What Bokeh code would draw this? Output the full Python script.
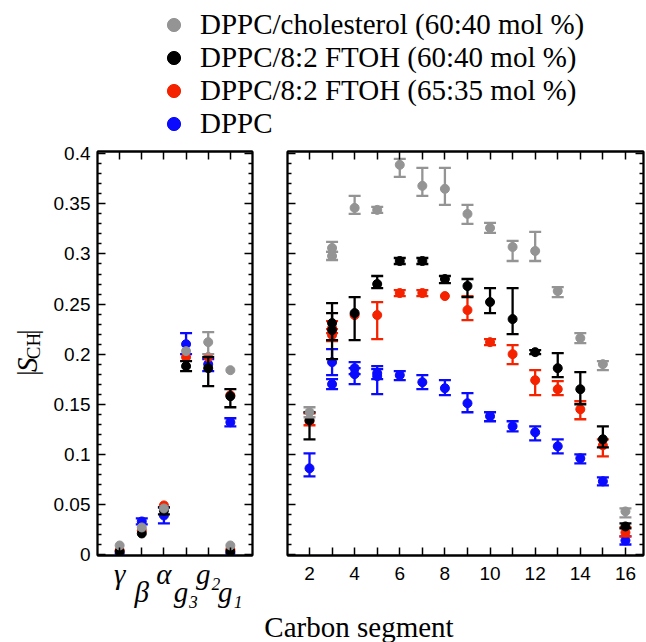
from bokeh.plotting import figure
from bokeh.models import Range1d, FixedTicker, LinearAxis, Legend, LegendItem
from bokeh.layouts import column, row
from bokeh.embed import file_html
from bokeh.resources import INLINE
from bokeh.core.properties import value
import math

# ---------------- data ----------------
series_names = ["DPPC/cholesterol (60:40 mol %)",
                "DPPC/8:2 FTOH (60:40 mol %)",
                "DPPC/8:2 FTOH (65:35 mol %)",
                "DPPC"]
series_colors = ["#949494", "#000000", "#f52200", "#0a0aff"]

head_groups = ["γ", "β", "α", "g₃", "g₂", "g₁"]

# headgroup / glycerol segments (left panel); None = no error bar
chol_head_grp = ["γ", "β", "α", "g₃", "g₂", "g₁", "g₁"]
chol_head_val = [0.009, 0.027, 0.046, 0.203, 0.212, 0.184, 0.009]
chol_head_lo = [None, None, None, None, 0.200, None, None]
chol_head_hi = [None, None, None, None, 0.222, None, None]

f40_head_grp = ["γ", "β", "α", "g₃", "g₂", "g₁", "g₁"]
f40_head_val = [0.003, 0.021, 0.044, 0.188, 0.186, 0.158, 0.003]
f40_head_lo = [None, None, 0.040, 0.183, 0.168, 0.147, None]
f40_head_hi = [None, None, 0.047, 0.193, 0.197, 0.165, None]

f35_head_grp = ["γ", "β", "α", "g₃", "g₂", "g₁", "g₁"]
f35_head_val = [0.004, 0.024, 0.049, 0.197, 0.197, 0.159, 0.005]
f35_head_lo = [None, None, None, None, None, None, None]
f35_head_hi = [None, None, None, None, None, None, None]

dppc_head_grp = ["γ", "β", "α", "g₃", "g₂", "g₁", "g₁"]
dppc_head_val = [0.001, 0.033, 0.039, 0.210, 0.190, 0.132, 0.001]
dppc_head_lo = [None, 0.030, 0.031, 0.200, 0.183, 0.128, None]
dppc_head_hi = [None, 0.036, 0.047, 0.221, 0.195, 0.136, None]

# acyl chain carbon segments (right panel)
chol_carbon = [2, 3, 3, 4, 5, 6, 7, 8, 9, 10, 11, 12, 13, 14, 15, 16]
chol_val = [0.142, 0.306, 0.298, 0.346, 0.344, 0.389, 0.368, 0.365, 0.340, 0.326, 0.307, 0.303, 0.263, 0.216, 0.190, 0.043]
chol_lo = [0.137, 0.302, 0.294, 0.340, 0.341, 0.377, 0.358, 0.349, 0.330, 0.321, 0.293, 0.293, 0.257, 0.211, 0.184, 0.037]
chol_hi = [0.147, 0.312, 0.302, 0.358, 0.347, 0.395, 0.386, 0.386, 0.349, 0.331, 0.313, 0.322, 0.267, 0.221, 0.193, 0.046]

f40_carbon = [2, 3, 3, 4, 5, 6, 7, 8, 9, 10, 11, 12, 13, 14, 15, 16]
f40_val = [0.134, 0.231, 0.224, 0.241, 0.270, 0.293, 0.293, 0.275, 0.268, 0.252, 0.235, 0.202, 0.186, 0.165, 0.115, 0.028]
f40_lo = [0.115, 0.214, 0.195, 0.214, 0.266, 0.290, 0.290, 0.271, 0.257, 0.241, 0.220, 0.200, 0.177, 0.150, 0.107, 0.026]
f40_hi = [0.142, 0.251, 0.241, 0.257, 0.278, 0.296, 0.296, 0.278, 0.275, 0.266, 0.266, 0.204, 0.201, 0.182, 0.128, 0.031]

f35_carbon = [2, 3, 3, 4, 5, 6, 7, 8, 9, 10, 11, 12, 13, 14, 15, 16]
f35_val = [0.133, 0.226, 0.219, 0.239, 0.239, 0.261, 0.261, 0.258, 0.244, 0.212, 0.200, 0.174, 0.165, 0.145, 0.109, 0.022]
f35_lo = [0.129, 0.221, 0.213, None, 0.215, 0.258, 0.258, None, 0.234, 0.209, 0.190, 0.159, 0.159, 0.135, 0.098, 0.018]
f35_hi = [0.141, 0.233, 0.225, None, 0.252, 0.264, 0.264, None, 0.258, 0.215, 0.209, 0.184, 0.173, 0.153, 0.115, 0.027]

dppc_carbon = [2, 3, 3, 4, 4, 5, 5, 6, 7, 8, 9, 10, 11, 12, 13, 14, 15, 16]
dppc_val = [0.086, 0.192, 0.170, 0.186, 0.180, 0.181, 0.178, 0.179, 0.172, 0.166, 0.151, 0.138, 0.128, 0.122, 0.108, 0.096, 0.073, 0.014]
dppc_lo = [0.078, 0.179, 0.165, 0.180, 0.170, 0.175, 0.160, 0.174, 0.165, 0.159, 0.142, 0.133, 0.123, 0.114, 0.101, 0.091, 0.069, 0.010]
dppc_hi = [0.101, 0.205, 0.175, 0.192, 0.186, 0.188, 0.185, 0.183, 0.179, 0.174, 0.161, 0.142, 0.133, 0.128, 0.115, 0.100, 0.077, 0.018]

y_ticks = [0, 0.05, 0.1, 0.15, 0.2, 0.25, 0.3, 0.35, 0.4]
y_tick_labels = ["0", "0.05", "0.1", "0.15", "0.2", "0.25", "0.3", "0.35", "0.4"]
y_minor_ticks = [round(0.01 * i, 2) for i in range(41) if i % 5]
x_ticks = [2, 4, 6, 8, 10, 12, 14, 16]
x_tick_labels = ["2", "4", "6", "8", "10", "12", "14", "16"]
x_minor_ticks = [3, 5, 7, 9, 11, 13, 15]

x_label = "Carbon segment"
y_label_parts = ["|", "S", "CH", "|"]

# ---------------- layout constants ----------------
SERIF = "Liberation Serif"
SANS = "Liberation Sans"
Y_RANGE = (-0.001, 0.4023)
LEG_H = 140
ROW_H = 472
XLAB_H = 30
YLAB_W = 45
LEFT_W = 217
RIGHT_W = 384
TOTAL_W = YLAB_W + LEFT_W + RIGHT_W


def make_panel(width, xr, border_left, border_right):
    p = figure(width=width, height=ROW_H, x_range=Range1d(*xr), y_range=Range1d(*Y_RANGE),
               x_axis_type=None, y_axis_type=None, output_backend="svg", toolbar_location=None,
               min_border_left=border_left, min_border_right=border_right,
               min_border_top=11, min_border_bottom=57)
    p.outline_line_color = "black"
    p.outline_line_width = 1.8
    p.background_fill_color = "white"
    p.border_fill_color = "white"
    return p


def style_ticks(ax, minor_in=4):
    ax.axis_line_color = "black"
    ax.axis_line_width = 1.8
    ax.major_tick_in = 8
    ax.major_tick_out = 0
    ax.minor_tick_in = minor_in
    ax.minor_tick_out = 0
    ax.major_tick_line_width = 1.5
    ax.minor_tick_line_width = 1.5
    ax.major_tick_line_color = "black"
    ax.minor_tick_line_color = "black"


def tick_axis(p, side, ticker, minor_in=4):
    ax = LinearAxis(ticker=ticker)
    style_ticks(ax, minor_in)
    ax.major_label_text_font_size = "0px"
    ax.major_label_text_color = None
    ax.major_label_standoff = 0
    p.add_layout(ax, side)
    return ax


def label_axis(p, side, ticks, labels, font, size, style, standoff):
    ax = LinearAxis(ticker=FixedTicker(ticks=ticks, minor_ticks=[]))
    ax.axis_line_color = None
    ax.major_tick_line_color = None
    ax.minor_tick_line_color = None
    ax.major_tick_in = 0
    ax.major_tick_out = 0
    ax.major_label_overrides = dict(zip(ticks, labels))
    ax.major_label_text_font = font
    ax.major_label_text_font_size = size
    ax.major_label_text_font_style = style
    ax.major_label_text_color = "black"
    ax.major_label_standoff = standoff
    p.add_layout(ax, side)
    return ax


def draw_series(p, xs, vals, los, his, color):
    bx = [x for x, lo in zip(xs, los) if lo is not None]
    blo = [lo for lo in los if lo is not None]
    bhi = [hi for hi in his if hi is not None]
    p.segment(x0=bx, y0=blo, x1=bx, y1=bhi, line_color=color, line_width=2.3)
    p.scatter(x=bx + bx, y=blo + bhi, marker="dash", size=12, line_color=color, line_width=2.3)
    p.scatter(x=xs, y=vals, size=9, fill_color=color, line_color=color)


y_ticker = FixedTicker(ticks=y_ticks, minor_ticks=y_minor_ticks)

# ---------------- y-axis title strip ----------------
ylab = figure(width=YLAB_W, height=ROW_H, x_range=Range1d(0, YLAB_W), y_range=Range1d(0, ROW_H),
              x_axis_type=None, y_axis_type=None, output_backend="svg", toolbar_location=None,
              min_border=0)
ylab.outline_line_color = None
ylab_x = [26, 26, 32.5, 26]
ylab_y = [213, 223, 244.7, 261]
ylab_style = ["normal", "italic", "normal", "normal"]
ylab_size = ["29px", "29px", "19px", "29px"]
for t, xx, yy, st, sz in zip(y_label_parts, ylab_x, ylab_y, ylab_style, ylab_size):
    ylab.text(x=[xx], y=[yy], text=[t], angle=math.pi / 2, text_align="center",
              text_baseline="middle", text_font=value(SERIF), text_font_style=st,
              text_font_size=value(sz), text_color="black")

# ---------------- left panel (headgroup) ----------------
left = make_panel(LEFT_W, (0, len(head_groups) + 1), 52, 10)
head_pos = list(range(1, len(head_groups) + 1))
head_ticker = FixedTicker(ticks=head_pos, minor_ticks=[])

yax = LinearAxis(ticker=y_ticker)
style_ticks(yax)
yax.major_label_overrides = dict(zip(y_ticks, y_tick_labels))
yax.major_label_text_font = SANS
yax.major_label_text_font_size = "19px"
yax.major_label_text_color = "black"
yax.major_label_standoff = 7
left.add_layout(yax, "left")
tick_axis(left, "right", y_ticker)
tick_axis(left, "below", head_ticker)
tick_axis(left, "above", head_ticker)
# staggered italic labels: upper row (odd positions) then lower row (even positions)
label_axis(left, "below", head_pos[0::2], head_groups[0::2], SERIF, "29px", "italic", 2)
label_axis(left, "below", head_pos[1::2], head_groups[1::2], SERIF, "29px", "italic", -17)

head_sets = [
    (dppc_head_grp, dppc_head_val, dppc_head_lo, dppc_head_hi, series_colors[3]),
    (f35_head_grp, f35_head_val, f35_head_lo, f35_head_hi, series_colors[2]),
    (f40_head_grp, f40_head_val, f40_head_lo, f40_head_hi, series_colors[1]),
    (chol_head_grp, chol_head_val, chol_head_lo, chol_head_hi, series_colors[0]),
]
for grp, val, lo, hi, col in head_sets:
    xs = [head_groups.index(g) + 1 for g in grp]
    draw_series(left, xs, val, lo, hi, col)

# ---------------- right panel (acyl chain) ----------------
right = make_panel(RIGHT_W, (1.025, 16.8), 25, 3)
x_ticker = FixedTicker(ticks=x_ticks, minor_ticks=x_minor_ticks)
tick_axis(right, "left", y_ticker)
tick_axis(right, "right", y_ticker)
tick_axis(right, "above", x_ticker, minor_in=8)
xax = LinearAxis(ticker=x_ticker)
style_ticks(xax, minor_in=8)
xax.major_label_overrides = dict(zip(x_ticks, x_tick_labels))
xax.major_label_text_font = SANS
xax.major_label_text_font_size = "19px"
xax.major_label_text_color = "black"
xax.major_label_standoff = 11
right.add_layout(xax, "below")

chain_sets = [
    (dppc_carbon, dppc_val, dppc_lo, dppc_hi, series_colors[3]),
    (f35_carbon, f35_val, f35_lo, f35_hi, series_colors[2]),
    (f40_carbon, f40_val, f40_lo, f40_hi, series_colors[1]),
    (chol_carbon, chol_val, chol_lo, chol_hi, series_colors[0]),
]
for xs, val, lo, hi, col in chain_sets:
    draw_series(right, xs, val, lo, hi, col)

# ---------------- legend strip ----------------
lf = figure(width=TOTAL_W, height=LEG_H, x_range=Range1d(0, 1), y_range=Range1d(0, 1),
            x_axis_type=None, y_axis_type=None, output_backend="svg", toolbar_location=None,
            min_border=0)
lf.outline_line_color = None
items = []
# the legend renderers carry the chain data, which lies outside this strip's range
for (xs, val, lo, hi, col), name in zip(chain_sets[::-1], series_names):
    r = lf.scatter(x=xs, y=val, size=9, fill_color=col, line_color=col)
    items.append(LegendItem(label=name, renderers=[r]))
leg = Legend(items=items, location=(156, 0), orientation="vertical",
             glyph_width=35, glyph_height=33, label_height=33, spacing=0,
             padding=0, margin=0, label_standoff=9,
             label_text_font=SERIF, label_text_font_size="29px", label_text_color="black",
             border_line_color=None, background_fill_alpha=0)
lf.add_layout(leg)

# ---------------- x-axis title strip ----------------
xl = figure(width=TOTAL_W, height=XLAB_H, x_range=Range1d(0, TOTAL_W),
            y_range=Range1d(0, XLAB_H), x_axis_type=None, y_axis_type=None,
            output_backend="svg", toolbar_location=None, min_border=0)
xl.outline_line_color = None
xl.text(x=[358.5], y=[16], text=[x_label], text_align="center", text_baseline="middle",
        text_font=value(SERIF), text_font_size=value("29px"), text_color="black")

layout = column(lf, row(ylab, left, right), xl)
open("out.html", "w").write(file_html(layout, INLINE))
